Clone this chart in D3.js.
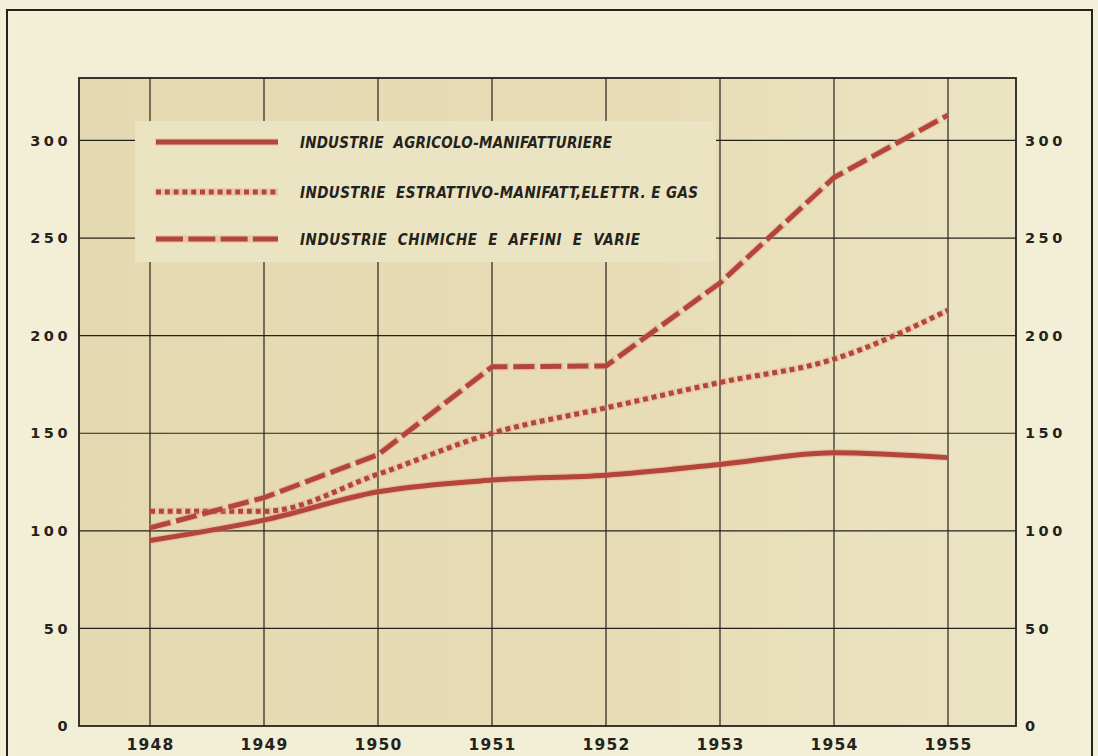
<!DOCTYPE html>
<html>
<head>
<meta charset="utf-8">
<script src="https://cdn.jsdelivr.net/npm/d3@7"></script>
<style>
  html, body { margin: 0; padding: 0; background: #f3f0d9; }
  svg { display: block; }
</style>
</head>
<body>
<svg id="chart" width="1098" height="756"></svg>
<script>
// Indici della produzione industriale, 1948-1955
const years = [1948, 1949, 1950, 1951, 1952, 1953, 1954, 1955];
const agricoloManifatturiere = [95, 105.5, 120, 126, 128.5, 134, 140, 137.5];
const estrattivoManifatt = [110, 110, 129, 150, 163, 176, 188, 213];
const chimicheVarie = [101.5, 117, 139, 184, 184.5, 227, 281, 313];
const yTicks = [0, 50, 100, 150, 200, 250, 300];
const seriesNames = [
  "INDUSTRIE  AGRICOLO-MANIFATTURIERE",
  "INDUSTRIE  ESTRATTIVO-MANIFATT,ELETTR. E GAS",
  "INDUSTRIE  CHIMICHE  E  AFFINI  E  VARIE"
];

const W = 1098, H = 756;
const plot = { left: 79, right: 1016, top: 78, bottom: 726 };
const ink = "#24221c";
const red = "#b3453a";
const halo = "rgba(225,150,128,0.35)";

const svg = d3.select("#chart");

const x = d3.scaleLinear().domain([1948, 1955]).range([150, 948]);
const y = d3.scaleLinear().domain([0, 332]).range([plot.bottom, plot.top]);

// page and outer frame
svg.append("rect").attr("x", 0).attr("y", 0).attr("width", W).attr("height", H).attr("fill", "#f3f0d9");
svg.append("rect").attr("x", 12).attr("y", 14).attr("width", 1074).attr("height", 760).attr("fill", "#f2efd6");
svg.append("rect")
  .attr("x", 7).attr("y", 10).attr("width", 1085).attr("height", 780)
  .attr("fill", "none").attr("stroke", ink).attr("stroke-width", 2);

// plot background, slightly lighter towards the right
const bg = svg.append("defs").append("linearGradient").attr("id", "paper")
  .attr("x1", "0").attr("x2", "1").attr("y1", "0").attr("y2", "0");
bg.append("stop").attr("offset", "0").attr("stop-color", "#e5d9b1");
bg.append("stop").attr("offset", "0.6").attr("stop-color", "#e7dcb6");
bg.append("stop").attr("offset", "1").attr("stop-color", "#ebe4c3");
svg.append("rect")
  .attr("x", plot.left).attr("y", plot.top)
  .attr("width", plot.right - plot.left).attr("height", plot.bottom - plot.top)
  .attr("fill", "url(#paper)");

// grid
const grid = svg.append("g").attr("stroke", ink).attr("stroke-width", 1.2);
grid.selectAll("line.v").data(years).join("line")
  .attr("x1", d => x(d)).attr("x2", d => x(d))
  .attr("y1", plot.top).attr("y2", plot.bottom);
grid.selectAll("line.h").data(yTicks.filter(d => d > 0)).join("line")
  .attr("x1", plot.left).attr("x2", plot.right)
  .attr("y1", d => y(d)).attr("y2", d => y(d));

// legend panel (clears the grid behind the key)
const legend = { x0: 135, x1: 716, y0: 121, y1: 262 };
svg.append("rect")
  .attr("x", legend.x0).attr("y", legend.y0)
  .attr("width", legend.x1 - legend.x0).attr("height", legend.y1 - legend.y0)
  .attr("fill", "#ebe4c3");

// plot frame
svg.append("rect")
  .attr("x", plot.left).attr("y", plot.top)
  .attr("width", plot.right - plot.left).attr("height", plot.bottom - plot.top)
  .attr("fill", "none").attr("stroke", ink).attr("stroke-width", 1.8);

// axes labels
const tickFont = "'DejaVu Sans', sans-serif";
const leftAxis = d3.axisLeft(y).tickValues(yTicks).tickSize(0).tickPadding(8).tickFormat(d3.format("d"));
const rightAxis = d3.axisRight(y).tickValues(yTicks).tickSize(0).tickPadding(9).tickFormat(d3.format("d"));
const bottomAxis = d3.axisBottom(x).tickValues(years).tickSize(0).tickPadding(13).tickFormat(d3.format("d"));

function styleAxis(g, spacing, weight, size) {
  g.select(".domain").remove();
  g.selectAll("text")
    .attr("fill", ink)
    .style("font-family", tickFont)
    .style("font-size", size + "px")
    .style("font-weight", weight)
    .style("letter-spacing", spacing + "px");
}
svg.append("g").attr("transform", `translate(${plot.left},0)`).call(leftAxis)
  .call(g => styleAxis(g, 3.5, 700, 14.5));
svg.append("g").attr("transform", `translate(${plot.right},0)`).call(rightAxis)
  .call(g => styleAxis(g, 3.5, 700, 14.5));
svg.append("g").attr("transform", `translate(0,${plot.bottom})`).call(bottomAxis)
  .call(g => styleAxis(g, 1.2, 600, 15.5));

// series
const series = [
  { name: seriesNames[0], values: agricoloManifatturiere, dash: null, curve: d3.curveMonotoneX },
  { name: seriesNames[1], values: estrattivoManifatt, dash: "5,3.8", curve: d3.curveMonotoneX },
  { name: seriesNames[2], values: chimicheVarie, dash: "21,6", curve: d3.curveLinear }
];

const lines = svg.append("g").attr("fill", "none");
series.forEach(s => {
  const gen = d3.line().x((d, i) => x(years[i])).y(d => y(d)).curve(s.curve);
  lines.append("path")
    .attr("d", gen(s.values))
    .attr("stroke", halo).attr("stroke-width", 7.5)
    .attr("stroke-dasharray", s.dash ? s.dash.split(",").map((v, i) => i === 0 ? +v + 2 : +v - 2).join(",") : null)
    .attr("stroke-linejoin", "round");
  lines.append("path")
    .attr("d", gen(s.values))
    .attr("stroke", red).attr("stroke-width", 5)
    .attr("stroke-dasharray", s.dash)
    .attr("stroke-linejoin", "round");
});

// legend key
const keyY = [142, 192, 239];
const keyEnd = [612, 698, 640];
const lg = svg.append("g");
series.forEach((s, i) => {
  lg.append("line")
    .attr("x1", 155).attr("x2", 278).attr("y1", keyY[i]).attr("y2", keyY[i])
    .attr("stroke", halo).attr("stroke-width", 7.5);
  lg.append("line")
    .attr("x1", 156).attr("x2", 278).attr("y1", keyY[i]).attr("y2", keyY[i])
    .attr("stroke", red).attr("stroke-width", 5)
    .attr("stroke-dasharray", i === 0 ? null : (i === 1 ? "5,3.8" : "27,5.3"));
  lg.append("text")
    .attr("x", 300).attr("y", keyY[i] + 6)
    .attr("fill", ink)
    .attr("textLength", keyEnd[i] - 300)
    .attr("lengthAdjust", "spacing")
    .style("white-space", "pre")
    .style("font-family", "'DejaVu Sans Condensed', 'DejaVu Sans', sans-serif")
    .style("font-stretch", "condensed")
    .style("font-style", "italic")
    .style("font-weight", 600)
    .style("font-size", "15px")
    .text(s.name);
});
</script>
</body>
</html>
